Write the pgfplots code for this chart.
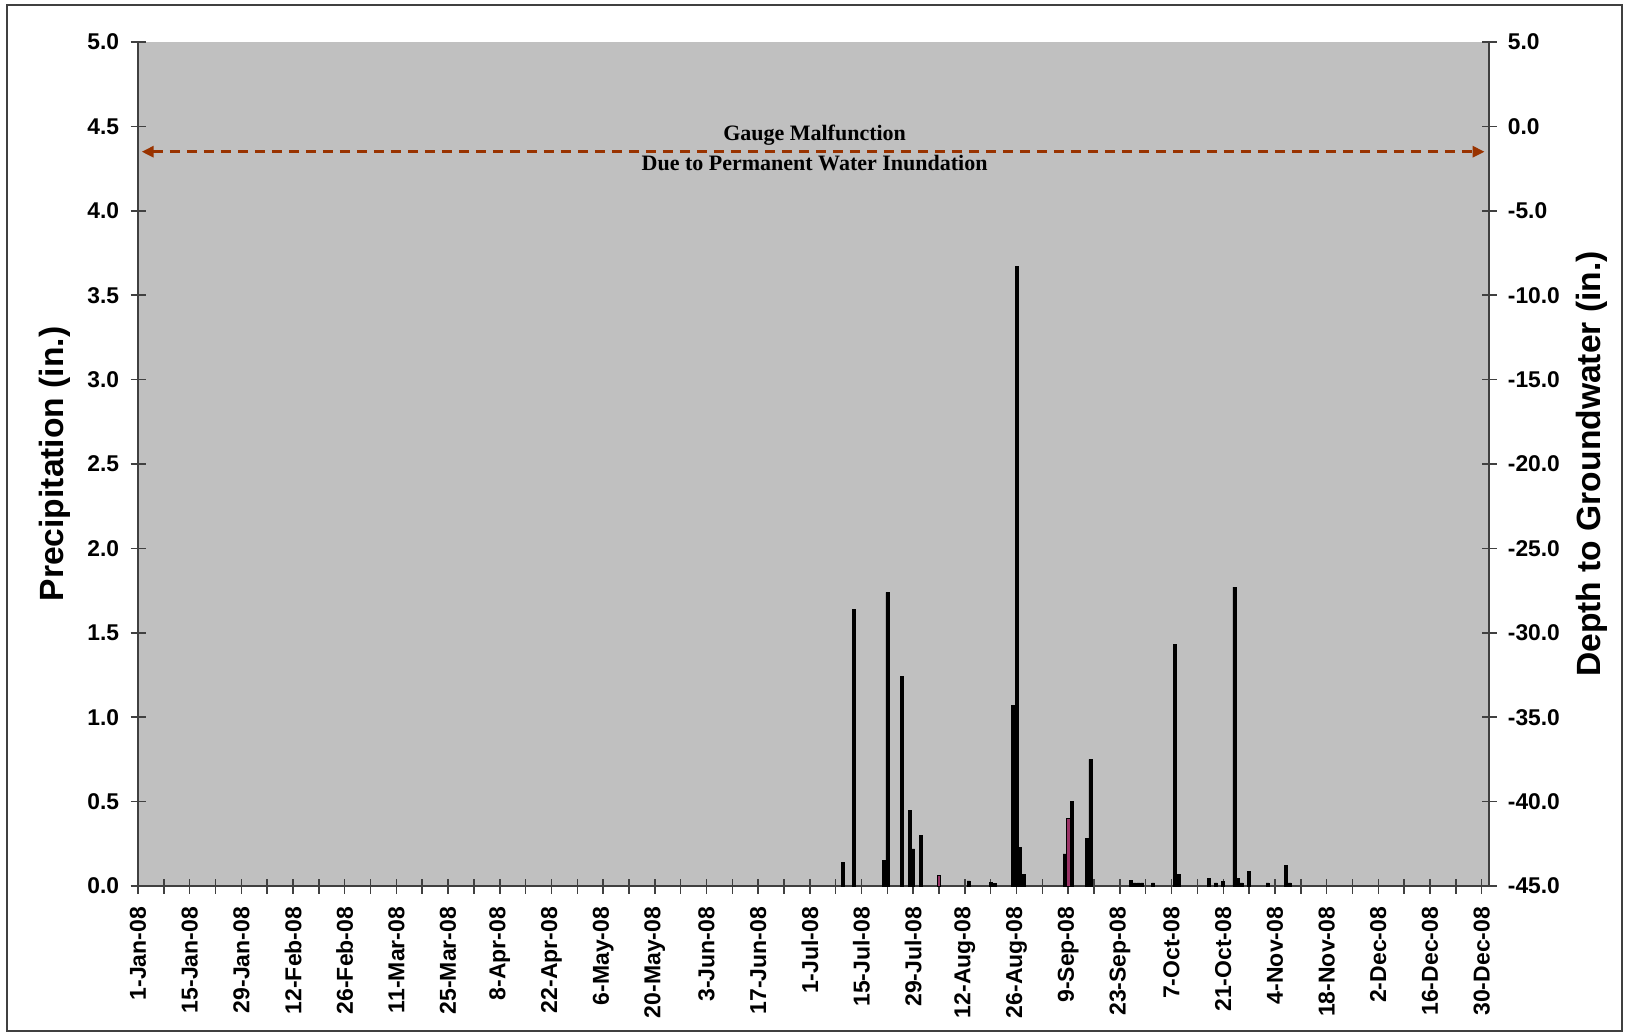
\documentclass[border=0pt]{standalone}
\usepackage{pgfplots}
\pgfplotsset{compat=1.18}
\usepackage{fontspec}
\setmainfont{Liberation Sans}
\newfontfamily\timesfont{Liberation Serif}
\usetikzlibrary{arrows.meta}
\definecolor{plotbg}{RGB}{192,192,192}
\definecolor{arrowbrown}{RGB}{153,51,0}
\definecolor{plum}{RGB}{153,51,102}
\definecolor{axgray}{RGB}{64,64,64}

\begin{document}
\begin{tikzpicture}
\useasboundingbox (0,0) rectangle (812.5pt,517pt);
\draw[axgray, line width=0.75pt] (3.5pt,1.5pt) rectangle (811pt,514.5pt);

\begin{axis}[
  at={(69pt,74pt)}, anchor=south west,
  scale only axis, width=675.5pt, height=422pt,
  xmin=0, xmax=366, ymin=0, ymax=5,
  axis x line*=bottom, axis y line*=left,
  axis background/.style={fill=plotbg},
  axis line style={draw=axgray, line width=0.75pt},
  every tick/.style={draw=axgray, line width=0.75pt},
  tick align=center,
  major tick length=7.5pt, minor tick length=7.5pt,
  xtick={0,14,...,364},
  minor xtick={7,21,...,357},
  xticklabels={1-Jan-08,15-Jan-08,29-Jan-08,12-Feb-08,26-Feb-08,11-Mar-08,25-Mar-08,8-Apr-08,22-Apr-08,6-May-08,20-May-08,3-Jun-08,17-Jun-08,1-Jul-08,15-Jul-08,29-Jul-08,12-Aug-08,26-Aug-08,9-Sep-08,23-Sep-08,7-Oct-08,21-Oct-08,4-Nov-08,18-Nov-08,2-Dec-08,16-Dec-08,30-Dec-08},
  xticklabel style={rotate=90, anchor=east, inner sep=0pt, font=\bfseries\fontsize{11.5}{13}\selectfont},
  xticklabel shift=6.5pt,
  ytick={0,0.5,...,5},
  yticklabel style={anchor=east, inner sep=0pt, font=\bfseries\fontsize{11.4}{13}\selectfont,
    /pgf/number format/.cd, fixed, fixed zerofill, precision=1, assume math mode=true},
  yticklabel shift=5.5pt,
  every axis y label/.style={at={(axis description cs:-0.0614,0.5)}, rotate=90, anchor=center},
  ylabel={\bfseries\fontsize{16.8}{19}\selectfont Precipitation (in.)},
  clip=false,
]
\addplot[ybar, bar width=0.8, bar shift=0pt, fill=black, draw=black, line width=0.3pt] coordinates {
(191,0.14) (194,1.64) (202,0.15) (203,1.74) (207,1.24) (209,0.45) (210,0.22) (212,0.30)
(225,0.03) (231,0.02) (232,0.015) (237,1.07) (238,3.67) (239,0.23) (240,0.07)
(251,0.19) (253,0.50) (257,0.28) (258,0.75)
(269,0.035) (270,0.018) (271,0.018) (272,0.018) (275,0.018)
(281,1.43) (282,0.07) (290,0.047) (292,0.018) (294,0.028)
(297,1.77) (298,0.047) (299,0.018) (301,0.088) (306,0.018) (311,0.122) (312,0.018)
};
\addplot[ybar, bar width=1.0, bar shift=0pt, fill=plum, draw=black, line width=0.5pt] coordinates {
(217,0.06) (252,0.40)
};
\draw[arrowbrown, line width=1.5pt, dash pattern=on 5pt off 3.5pt,
  {Triangle[length=6pt,width=5.5pt]}-{Triangle[length=6pt,width=5.5pt]}]
  (axis cs:1.0,4.35) -- (axis cs:364.8,4.35);
\node[font=\timesfont\bfseries\fontsize{11}{13}\selectfont, inner sep=0pt] at (axis cs:183.3,4.449) {Gauge Malfunction};
\node[font=\timesfont\bfseries\fontsize{11}{13}\selectfont, inner sep=0pt] at (axis cs:183.3,4.285) {Due to Permanent Water Inundation};
\end{axis}

\begin{axis}[
  at={(69pt,74pt)}, anchor=south west,
  scale only axis, width=675.5pt, height=422pt,
  xmin=0, xmax=366, ymin=-45, ymax=5,
  axis x line=none, axis y line*=right,
  axis line style={draw=axgray, line width=0.75pt},
  every tick/.style={draw=axgray, line width=0.75pt},
  tick align=center,
  major tick length=7.5pt,
  ytick={-45,-40,...,5},
  yticklabel style={anchor=west, inner sep=0pt, font=\bfseries\fontsize{11.4}{13}\selectfont,
    /pgf/number format/.cd, fixed, fixed zerofill, precision=1, assume math mode=true},
  yticklabel shift=5.5pt,
  every axis y label/.style={at={(axis description cs:1.0762,0.5)}, rotate=90, anchor=center},
  ylabel={\bfseries\fontsize{16.8}{19}\selectfont Depth to Groundwater (in.)},
]
\end{axis}
\end{tikzpicture}
\end{document}
